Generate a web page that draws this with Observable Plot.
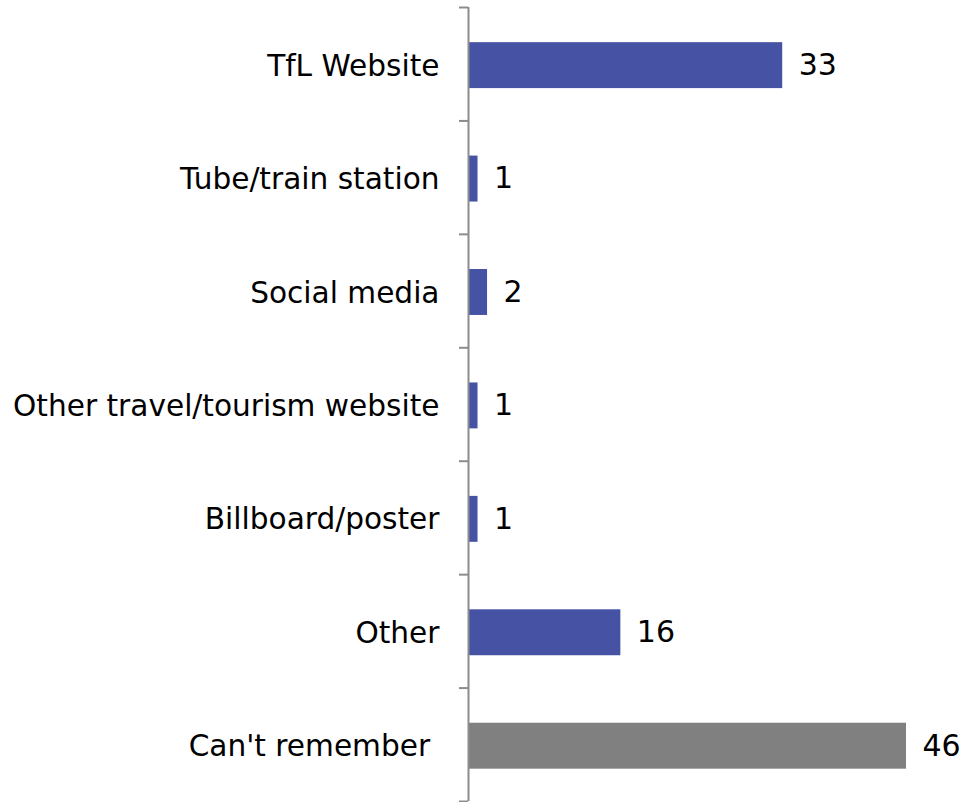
<!DOCTYPE html>
<html>
<head>
<meta charset="utf-8">
<script src="https://cdn.jsdelivr.net/npm/d3@7"></script>
<script src="https://cdn.jsdelivr.net/npm/@observablehq/plot@0.6"></script>
<style>
  html, body { margin: 0; padding: 0; background: #fff; }
  #chart { width: 963px; height: 802px; }
</style>
</head>
<body>
<div id="chart"></div>
<script>
const categories = ["TfL Website", "Tube/train station", "Social media", "Other travel/tourism website", "Billboard/poster", "Other", "Can't remember\u00a0"];
const values = [33, 1, 2, 1, 1, 16, 46];
const groups = ["known", "known", "known", "known", "known", "known", "unknown"];
const groupColors = ["#4653A5", "#808080"];

const data = categories.map((c, i) => ({ i, category: c, value: values[i], group: groups[i] }));
const boundaries = d3.range(categories.length + 1);
const centers = categories.map((c, i) => i + 0.5);

const chart = Plot.plot({
  width: 963,
  height: 802,
  marginTop: 7,
  marginBottom: 1,
  marginLeft: 468,
  marginRight: 57,
  style: { fontFamily: "'DejaVu Sans', Verdana, sans-serif", background: "#fff", color: "#000" },
  x: { domain: [0, 46], axis: null },
  y: { domain: [0, categories.length], reverse: true, axis: null },
  color: { domain: ["known", "unknown"], range: groupColors },
  marks: [
    Plot.rect(data, { x1: 0, x2: "value", y1: d => d.i + 0.31, y2: d => d.i + 0.715, fill: "group" }),
    Plot.ruleX([0], { y1: 0, y2: categories.length, stroke: "#8c8c8c", strokeWidth: 2 }),
    Plot.axisY(boundaries, { tickSize: 9, tickFormat: () => "", stroke: "#8c8c8c", strokeWidth: 2 }),
    Plot.axisY(centers, { tickSize: 0, tickPadding: 29, fontSize: 29.6, dy: 2, fill: "#000", tickFormat: v => categories[Math.round(v - 0.5)] }),
    Plot.text(data, { x: "value", y: d => d.i + 0.51, text: d => String(d.value), textAnchor: "start", dx: 16, fontSize: 30, fill: "#000" })
  ]
});
document.getElementById("chart").append(chart);
</script>
</body>
</html>
